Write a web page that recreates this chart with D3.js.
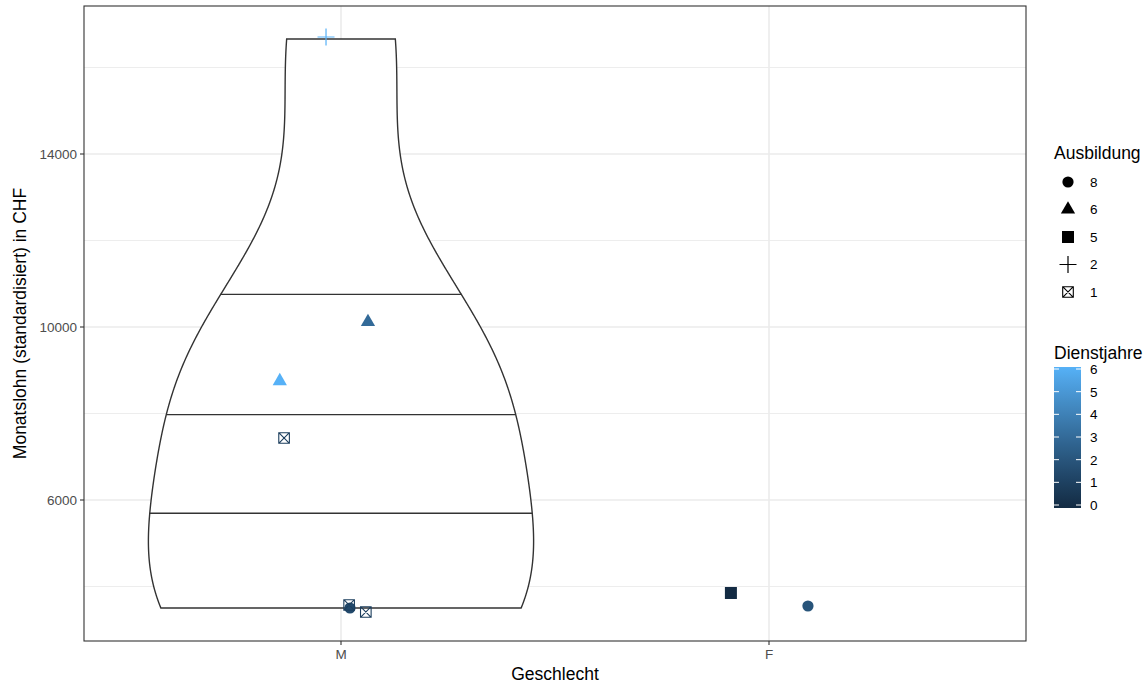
<!DOCTYPE html>
<html>
<head>
<meta charset="utf-8">
<script src="https://cdn.jsdelivr.net/npm/d3@7"></script>
<style>
  html, body { margin: 0; padding: 0; background: #fff; }
  svg text { font-family: "Liberation Sans", Arial, sans-serif; }
</style>
</head>
<body>
<svg id="chart" width="1144" height="685"></svg>
<script>
// ---- data: one entry per employee ----
const groups = ["M", "F"];
const geschlecht  = ["M", "M", "M", "M", "M", "M", "M", "F", "F"];
const monatslohn  = [16659, 8751, 10116, 7434, 3503, 3560, 3520, 3850, 3549];
const ausbildung  = [2, 6, 6, 1, 8, 1, 1, 5, 8];
const dienstjahre = [6, 6, 3, 1, 1.5, 1, 1, 0, 2];
// jitter offsets (x in category widths, y in CHF)
const jitterX = [-0.035, -0.143, 0.063, -0.133, 0.021, 0.019, 0.058, -0.089, 0.091];
const jitterY = [46, 0, 0, 0, 0, 12, -110, 0, 0];

const yTicks = [6000, 10000, 14000];
const yMinor = [4000, 8000, 12000, 16000];
const ausbildungLevels = [8, 6, 5, 2, 1];
const dienstjahreTicks = [0, 1, 2, 3, 4, 5, 6];
const violinQuantiles = [0.25, 0.5, 0.75];

// ---- layout ----
const panel = { left: 84, right: 1026, top: 6, bottom: 641 };
const svg = d3.select("#chart");

const yLo = 6000 - (panel.bottom - 500) * 8000 / 346;
const yHi = 14000 + (154 - panel.top) * 8000 / 346;
const y = d3.scaleLinear().domain([yLo, yHi]).range([panel.bottom, panel.top]);
const x = d3.scalePoint().domain(groups).range([341, 769]);
const unit = x("F") - x("M");

const color = d3.scaleLinear().domain([0, 6]).range(["#132B43", "#56B1F7"])
  .interpolate(d3.interpolateLab);

const shapeOf = { 8: "circle", 6: "triangle", 5: "square", 2: "plus", 1: "boxx" };

function drawShape(g, shape, fill, cx, cy) {
  if (shape === "circle") {
    g.append("circle").attr("cx", cx).attr("cy", cy).attr("r", 5.6).attr("fill", fill);
  } else if (shape === "triangle") {
    g.append("path").attr("transform", `translate(${cx},${cy})`)
      .attr("d", d3.symbol(d3.symbolTriangle, 88)()).attr("fill", fill);
  } else if (shape === "square") {
    g.append("rect").attr("x", cx - 6).attr("y", cy - 6).attr("width", 12).attr("height", 12)
      .attr("fill", fill);
  } else if (shape === "plus") {
    g.append("path").attr("d", `M${cx - 8.5},${cy}H${cx + 8.5}M${cx},${cy - 8.5}V${cy + 8.5}`)
      .attr("stroke", fill).attr("stroke-width", 1.2).attr("fill", "none");
  } else if (shape === "boxx") {
    const h = 5.3;
    g.append("path")
      .attr("d", `M${cx - h},${cy - h}H${cx + h}V${cy + h}H${cx - h}Z` +
                 `M${cx - h},${cy - h}L${cx + h},${cy + h}M${cx + h},${cy - h}L${cx - h},${cy + h}`)
      .attr("stroke", fill).attr("stroke-width", 1.1).attr("fill", "none");
  }
}

// ---- panel background & grid ----
svg.append("rect").attr("x", panel.left).attr("y", panel.top)
  .attr("width", panel.right - panel.left).attr("height", panel.bottom - panel.top)
  .attr("fill", "#fff");

const grid = svg.append("g");
grid.selectAll(".minor").data(yMinor).join("line")
  .attr("x1", panel.left).attr("x2", panel.right)
  .attr("y1", d => y(d)).attr("y2", d => y(d))
  .attr("stroke", "#EBEBEB").attr("stroke-width", 0.9);
grid.selectAll(".major").data(yTicks).join("line")
  .attr("x1", panel.left).attr("x2", panel.right)
  .attr("y1", d => y(d)).attr("y2", d => y(d))
  .attr("stroke", "#EBEBEB").attr("stroke-width", 1.6);
grid.selectAll(".vmajor").data(groups).join("line")
  .attr("y1", panel.top).attr("y2", panel.bottom)
  .attr("x1", d => x(d)).attr("x2", d => x(d))
  .attr("stroke", "#EBEBEB").attr("stroke-width", 1.6);

// ---- violin (gaussian kde, bw.nrd0, trimmed to data range) ----
const vals = monatslohn.filter((v, i) => geschlecht[i] === "M").sort(d3.ascending);
const n = vals.length;
const sd = d3.deviation(vals);
const iqr = d3.quantile(vals, 0.75) - d3.quantile(vals, 0.25);
const bw = 0.9 * Math.min(sd, iqr / 1.34) * Math.pow(n, -0.2);
const vmin = d3.min(vals), vmax = d3.max(vals);
const gridY = d3.range(512).map(i => vmin + (vmax - vmin) * i / 511);
const dens = gridY.map(t => d3.sum(vals, v => Math.exp(-0.5 * ((t - v) / bw) ** 2)));
const dmax = d3.max(dens);
const widths = dens.map(d => d / dmax * 0.45 * unit);
const cx0 = x("M");

const outline = [];
gridY.forEach((t, i) => outline.push([cx0 + widths[i], y(t)]));
for (let i = gridY.length - 1; i >= 0; i--) outline.push([cx0 - widths[i], y(gridY[i])]);
svg.append("path").attr("d", d3.line()(outline) + "Z")
  .attr("fill", "#fff").attr("stroke", "#333333").attr("stroke-width", 1.4);

// quantile lines from the cumulative density
const dsum = d3.sum(dens);
let acc = 0;
const ecdf = dens.map(d => (acc += d) / dsum);
violinQuantiles.forEach(q => {
  let j = ecdf.findIndex(e => e >= q);
  let t, w;
  if (j <= 0) { t = gridY[0]; w = widths[0]; }
  else {
    const f = (q - ecdf[j - 1]) / (ecdf[j] - ecdf[j - 1]);
    t = gridY[j - 1] + f * (gridY[j] - gridY[j - 1]);
    w = widths[j - 1] + f * (widths[j] - widths[j - 1]);
  }
  svg.append("line").attr("x1", cx0 - w).attr("x2", cx0 + w)
    .attr("y1", y(t)).attr("y2", y(t))
    .attr("stroke", "#333333").attr("stroke-width", 1.4);
});

// ---- points ----
const pts = svg.append("g");
monatslohn.forEach((v, i) => {
  drawShape(pts, shapeOf[ausbildung[i]], color(dienstjahre[i]),
    x(geschlecht[i]) + jitterX[i] * unit, y(v + jitterY[i]));
});

// ---- panel border ----
svg.append("rect").attr("x", panel.left).attr("y", panel.top)
  .attr("width", panel.right - panel.left).attr("height", panel.bottom - panel.top)
  .attr("fill", "none").attr("stroke", "#333333").attr("stroke-width", 1.1);

// ---- axes ----
const titleSize = 17.5, tickSize = 13.5;
const axY = svg.append("g");
yTicks.forEach(t => {
  axY.append("line").attr("x1", panel.left - 4).attr("x2", panel.left)
    .attr("y1", y(t)).attr("y2", y(t)).attr("stroke", "#333333").attr("stroke-width", 1.1);
  axY.append("text").attr("x", panel.left - 7).attr("y", y(t)).attr("dy", "0.36em")
    .attr("text-anchor", "end").attr("font-size", tickSize).attr("fill", "#4D4D4D").text(t);
});
const axX = svg.append("g");
groups.forEach(gname => {
  axX.append("line").attr("y1", panel.bottom).attr("y2", panel.bottom + 4)
    .attr("x1", x(gname)).attr("x2", x(gname)).attr("stroke", "#333333").attr("stroke-width", 1.1);
  axX.append("text").attr("x", x(gname)).attr("y", panel.bottom + 18)
    .attr("text-anchor", "middle").attr("font-size", tickSize).attr("fill", "#4D4D4D").text(gname);
});
svg.append("text").attr("x", (panel.left + panel.right) / 2).attr("y", 680)
  .attr("text-anchor", "middle").attr("font-size", titleSize).attr("fill", "#000").text("Geschlecht");
svg.append("text").attr("transform", `translate(26,${(panel.top + panel.bottom) / 2}) rotate(-90)`)
  .attr("text-anchor", "middle").attr("font-size", titleSize).attr("fill", "#000")
  .text("Monatslohn (standardisiert) in CHF");

// ---- shape legend ----
const lg = svg.append("g");
lg.append("text").attr("x", 1054).attr("y", 159).attr("font-size", titleSize).attr("fill", "#000").text("Ausbildung");
ausbildungLevels.forEach((lvl, k) => {
  const yy = 182 + k * 27.5;
  drawShape(lg, shapeOf[lvl], "#000", 1068, yy);
  lg.append("text").attr("x", 1090).attr("y", yy).attr("dy", "0.36em")
    .attr("font-size", tickSize).attr("fill", "#000").text(lvl);
});

// ---- colour bar ----
const cb = { x: 1054, w: 27, top: 367, bottom: 508 };
const cbScale = d3.scaleLinear().domain([0, 6]).range([505, 369]);
const defs = svg.append("defs");
const grad = defs.append("linearGradient").attr("id", "djGrad")
  .attr("x1", 0).attr("y1", 1).attr("x2", 0).attr("y2", 0);
d3.range(0, 1.0001, 0.05).forEach(o => {
  grad.append("stop").attr("offset", o).attr("stop-color", color(o * 6));
});
svg.append("text").attr("x", 1054).attr("y", 359).attr("font-size", titleSize).attr("fill", "#000").text("Dienstjahre");
svg.append("rect").attr("x", cb.x).attr("y", cb.top).attr("width", cb.w)
  .attr("height", cb.bottom - cb.top).attr("fill", "url(#djGrad)");
dienstjahreTicks.forEach(t => {
  const yy = cbScale(t);
  svg.append("line").attr("x1", cb.x).attr("x2", cb.x + 5).attr("y1", yy).attr("y2", yy)
    .attr("stroke", "#fff").attr("stroke-width", 1);
  svg.append("line").attr("x1", cb.x + cb.w - 5).attr("x2", cb.x + cb.w).attr("y1", yy).attr("y2", yy)
    .attr("stroke", "#fff").attr("stroke-width", 1);
  svg.append("text").attr("x", 1090).attr("y", yy).attr("dy", "0.36em")
    .attr("font-size", tickSize).attr("fill", "#000").text(t);
});
</script>
</body>
</html>
